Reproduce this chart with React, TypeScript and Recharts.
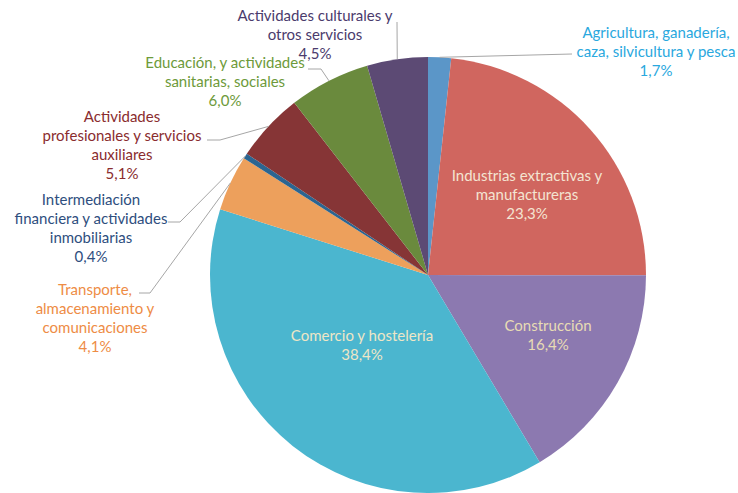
import React from 'react'
import { PieChart, Pie, Cell } from 'recharts'

if (typeof document !== 'undefined') document.body.style.margin = '0'

const categories = [
  'Agricultura, ganadería,\ncaza, silvicultura y pesca',
  'Industrias extractivas y\nmanufactureras',
  'Construcción',
  'Comercio y hostelería',
  'Transporte,\nalmacenamiento y\ncomunicaciones',
  'Intermediación\nfinanciera y actividades\ninmobiliarias',
  'Actividades\nprofesionales y servicios\nauxiliares',
  'Educación, y actividades\nsanitarias, sociales',
  'Actividades culturales y\notros servicios',
]
const shares = [1.7, 23.3, 16.4, 38.4, 4.1, 0.4, 5.1, 6.0, 4.5]

const sliceColors = ['#5b96c8', '#d0665f', '#8c79b0', '#4bb6cf', '#eda05c', '#2b6591', '#863536', '#6a8a3d', '#5c4a74']
const textColors = ['#2aa8de', '#f4e4d2', '#e8dcb4', '#eee6c6', '#ee8c45', '#2e4e7e', '#8a2c2e', '#6d9a3a', '#4b3b6d']

// label placement relative to the pie centre: text centre (dx, dy of first line) and leader points
const labelLayout: { dx: number; dy: number; line?: [number, number][] }[] = [
  { dx: 228, dy: -243, line: [[144, -221]] },
  { dx: 99, dy: -100 },
  { dx: 120, dy: 50 },
  { dx: -66, dy: 60 },
  { dx: -333, dy: 14, line: [[-278, 18], [-289, 18]] },
  { dx: -337, dy: -76, line: [[-248, -53], [-260, -53]] },
  { dx: -306, dy: -159, line: [[-208, -135], [-221, -135]] },
  { dx: -203, dy: -213, line: [[-107, -206], [-120, -206]] },
  { dx: -113, dy: -260, line: [[-31, -253]] },
]

const data = categories.map((name, i) => ({ name, value: shares[i] }))
const RAD = Math.PI / 180
const LINE_H = 19

const fmt = (v: number) => v.toFixed(1).replace('.', ',') + '%'

function renderLabel(props: any) {
  const { cx, cy, midAngle, outerRadius, index } = props
  const lay = labelLayout[index]
  const lines = [...categories[index].split('\n'), fmt(shares[index])]
  const x = cx + lay.dx
  const y = cy + lay.dy
  let leader = null
  if (lay.line) {
    const ex = cx + outerRadius * Math.cos(-midAngle * RAD)
    const ey = cy + outerRadius * Math.sin(-midAngle * RAD)
    const pts = [[ex, ey], ...lay.line.map(([px, py]) => [cx + px, cy + py])]
    leader = <polyline points={pts.map((p) => p.join(',')).join(' ')} fill="none" stroke="#a6a6a6" strokeWidth={1} />
  }
  return (
    <g key={`lbl-${index}`}>
      {leader}
      <text x={x} y={y} textAnchor="middle" fill={textColors[index]} fontSize={15} fontFamily="Lato, sans-serif">
        {lines.map((t, i) => (
          <tspan key={i} x={x} y={y + i * LINE_H} dominantBaseline="central">
            {t}
          </tspan>
        ))}
      </text>
    </g>
  )
}

export default function App() {
  return (
    <div style={{ width: 738, height: 493, background: '#fff' }}>
      <PieChart width={738} height={493} margin={{ top: 0, right: 0, bottom: 0, left: 0 }}>
        <Pie
          data={data}
          dataKey="value"
          nameKey="name"
          cx={428}
          cy={275}
          outerRadius={218}
          startAngle={90}
          endAngle={-270}
          stroke="none"
          label={renderLabel}
          labelLine={false}
          isAnimationActive={false}
        >
          {data.map((d, i) => (
            <Cell key={d.name} fill={sliceColors[i]} />
          ))}
        </Pie>
      </PieChart>
    </div>
  )
}
